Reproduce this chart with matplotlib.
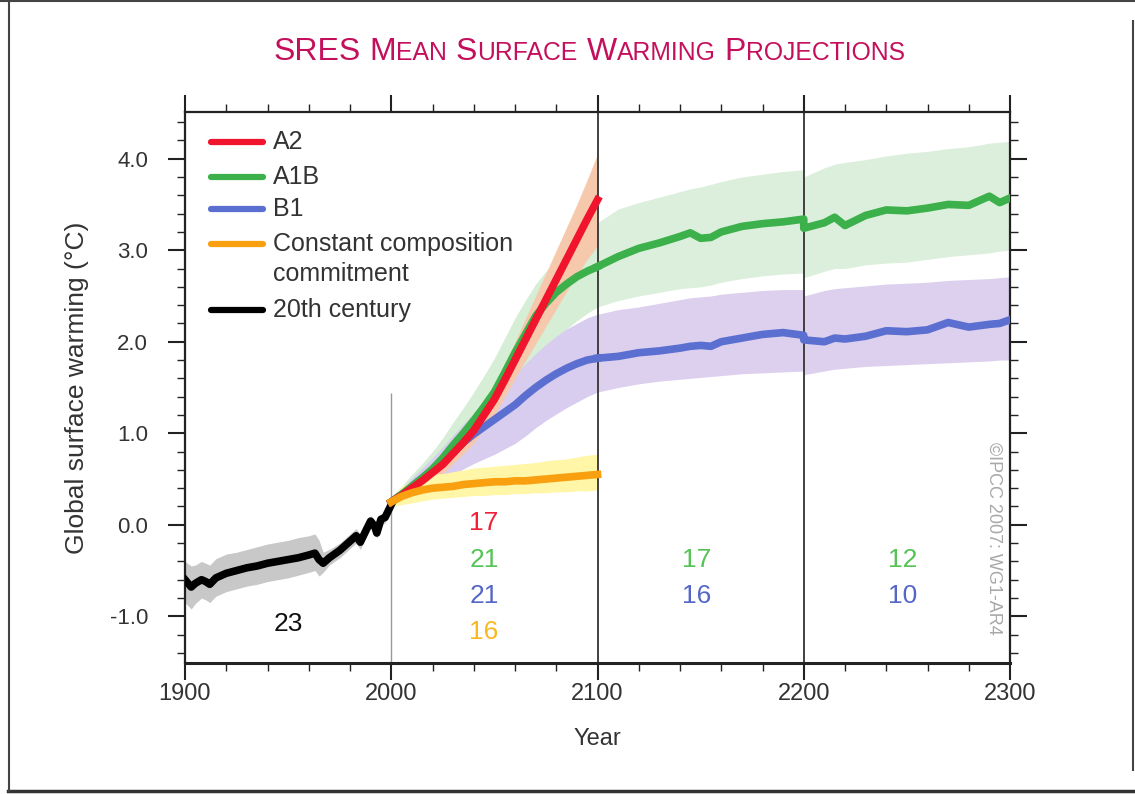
import matplotlib
matplotlib.use('Agg')
import matplotlib.pyplot as plt
from matplotlib.lines import Line2D
from matplotlib.ticker import MultipleLocator, FormatStrFormatter

plt.rcParams['font.family'] = ['Liberation Sans', 'DejaVu Sans']
plt.rcParams['axes.unicode_minus'] = False

# 20th century
hist_years = [1900, 1903, 1905, 1908, 1910, 1912, 1915, 1920, 1925, 1930, 1935, 1940, 1945, 1950, 1955, 1960,
              1963, 1965, 1967, 1970, 1975, 1980, 1983, 1985, 1988, 1990, 1992, 1993, 1995, 1997, 2000]
hist_mean = [-0.60, -0.68, -0.64, -0.60, -0.62, -0.65, -0.58, -0.53, -0.50, -0.47, -0.45, -0.42, -0.40, -0.38, -0.36, -0.33,
             -0.31, -0.38, -0.42, -0.36, -0.28, -0.18, -0.12, -0.19, -0.05, 0.04, -0.02, -0.09, 0.06, 0.08, 0.22]
hist_hi = [-0.40, -0.45, -0.44, -0.40, -0.42, -0.44, -0.37, -0.32, -0.30, -0.27, -0.24, -0.21, -0.19, -0.17, -0.14, -0.12,
           -0.10, -0.17, -0.30, -0.27, -0.20, -0.10, -0.04, -0.11, 0.02, 0.10, 0.04, -0.02, 0.12, 0.14, 0.27]
hist_lo = [-0.85, -0.92, -0.86, -0.80, -0.82, -0.85, -0.78, -0.73, -0.70, -0.67, -0.65, -0.62, -0.60, -0.58, -0.55, -0.52,
           -0.50, -0.56, -0.52, -0.44, -0.36, -0.26, -0.20, -0.27, -0.12, -0.03, -0.08, -0.15, 0.00, 0.02, 0.17]

# 21st century projections
proj_years = [2000, 2005, 2010, 2015, 2020, 2025, 2030, 2035, 2040, 2045, 2050,
              2055, 2060, 2065, 2070, 2075, 2080, 2085, 2090, 2095, 2100]
a2_mean = [0.25, 0.32, 0.40, 0.48, 0.57, 0.66, 0.78, 0.90, 1.03, 1.20, 1.37,
           1.58, 1.80, 2.02, 2.24, 2.46, 2.68, 2.90, 3.12, 3.34, 3.55]
a2_hi = [0.30, 0.38, 0.47, 0.56, 0.66, 0.76, 0.89, 1.02, 1.17, 1.34, 1.53,
         1.76, 2.00, 2.25, 2.50, 2.75, 3.00, 3.25, 3.50, 3.77, 4.05]
a2_lo = [0.20, 0.26, 0.33, 0.40, 0.48, 0.56, 0.67, 0.78, 0.89, 1.05, 1.20,
         1.40, 1.60, 1.79, 1.98, 2.17, 2.36, 2.55, 2.73, 2.90, 3.05]
a1b_mean = [0.25, 0.33, 0.42, 0.51, 0.61, 0.73, 0.87, 1.00, 1.14, 1.29, 1.45,
            1.66, 1.88, 2.08, 2.28, 2.42, 2.54, 2.63, 2.71, 2.77, 2.82]
a1b_hi = [0.30, 0.42, 0.55, 0.67, 0.80, 0.95, 1.12, 1.28, 1.45, 1.63, 1.82,
          2.04, 2.26, 2.45, 2.63, 2.77, 2.90, 3.01, 3.10, 3.18, 3.25]
a1b_lo = [0.20, 0.26, 0.32, 0.38, 0.45, 0.53, 0.63, 0.73, 0.84, 0.95, 1.07,
          1.26, 1.44, 1.62, 1.80, 1.93, 2.04, 2.14, 2.23, 2.31, 2.38]
b1_mean = [0.25, 0.33, 0.42, 0.51, 0.60, 0.70, 0.80, 0.90, 0.99, 1.07, 1.15,
           1.23, 1.31, 1.41, 1.50, 1.58, 1.65, 1.71, 1.76, 1.80, 1.82]
b1_hi = [0.30, 0.40, 0.51, 0.62, 0.73, 0.85, 0.98, 1.10, 1.22, 1.33, 1.44,
         1.54, 1.64, 1.76, 1.87, 1.97, 2.06, 2.14, 2.20, 2.26, 2.30]
b1_lo = [0.20, 0.25, 0.31, 0.37, 0.43, 0.49, 0.55, 0.61, 0.67, 0.72, 0.77,
         0.83, 0.89, 0.97, 1.06, 1.14, 1.21, 1.28, 1.34, 1.40, 1.45]
cc_mean = [0.25, 0.31, 0.35, 0.38, 0.40, 0.41, 0.42, 0.44, 0.45, 0.46, 0.47,
           0.47, 0.48, 0.48, 0.49, 0.50, 0.51, 0.52, 0.53, 0.54, 0.55]
cc_hi = [0.30, 0.42, 0.48, 0.52, 0.55, 0.56, 0.58, 0.60, 0.62, 0.63, 0.64,
         0.65, 0.66, 0.67, 0.68, 0.70, 0.71, 0.72, 0.74, 0.76, 0.77]
cc_lo = [0.20, 0.22, 0.24, 0.26, 0.28, 0.29, 0.30, 0.31, 0.32, 0.32, 0.33,
         0.33, 0.34, 0.34, 0.35, 0.35, 0.36, 0.36, 0.37, 0.37, 0.38]

# 2100-2300 extensions (2200 appears twice: model set changes there)
ext_years = [2100, 2110, 2120, 2130, 2140, 2145, 2150, 2155, 2160, 2170, 2180, 2190, 2200,
             2200, 2210, 2215, 2220, 2230, 2240, 2250, 2260, 2270, 2280, 2290, 2295, 2300]
a1b_ext_mean = [2.82, 2.93, 3.02, 3.08, 3.15, 3.19, 3.13, 3.14, 3.20, 3.26, 3.29, 3.31, 3.34,
                3.24, 3.30, 3.36, 3.27, 3.38, 3.44, 3.43, 3.46, 3.50, 3.49, 3.59, 3.52, 3.57]
a1b_ext_hi = [3.30, 3.45, 3.52, 3.58, 3.64, 3.67, 3.69, 3.72, 3.75, 3.80, 3.83, 3.86, 3.88,
              3.80, 3.90, 3.94, 3.96, 3.99, 4.03, 4.06, 4.08, 4.11, 4.13, 4.17, 4.18, 4.19]
a1b_ext_lo = [2.38, 2.45, 2.50, 2.54, 2.58, 2.59, 2.60, 2.62, 2.65, 2.69, 2.72, 2.74, 2.75,
              2.70, 2.77, 2.80, 2.80, 2.84, 2.86, 2.87, 2.90, 2.93, 2.95, 2.97, 2.99, 3.00]
b1_ext_mean = [1.82, 1.84, 1.88, 1.90, 1.93, 1.95, 1.96, 1.95, 2.00, 2.04, 2.08, 2.10, 2.07,
               2.02, 2.00, 2.04, 2.03, 2.06, 2.12, 2.11, 2.13, 2.21, 2.16, 2.19, 2.20, 2.24]
b1_ext_hi = [2.30, 2.35, 2.38, 2.42, 2.46, 2.48, 2.49, 2.50, 2.52, 2.54, 2.56, 2.57, 2.57,
             2.50, 2.56, 2.58, 2.59, 2.61, 2.63, 2.64, 2.65, 2.67, 2.68, 2.69, 2.70, 2.71]
b1_ext_lo = [1.45, 1.50, 1.54, 1.57, 1.59, 1.60, 1.61, 1.62, 1.63, 1.65, 1.66, 1.67, 1.68,
             1.64, 1.68, 1.70, 1.71, 1.73, 1.74, 1.75, 1.76, 1.77, 1.78, 1.79, 1.80, 1.80]

# number of models per period
count_labels = [
    (1950, -1.08, '23', '#111111'),
    (2045, 0.02, '17', '#f0203a'),
    (2045, -0.38, '21', '#55c455'),
    (2045, -0.78, '21', '#5566c8'),
    (2045, -1.17, '16', '#f8b820'),
    (2148, -0.38, '17', '#55c455'),
    (2148, -0.78, '16', '#5566c8'),
    (2248, -0.38, '12', '#55c455'),
    (2248, -0.78, '10', '#5566c8'),
]

legend_labels = ['A2', 'A1B', 'B1', 'Constant composition', '20th century']

RED = '#f0142d'
GREEN = '#3cb04a'
BLUE = '#5b6fd0'
ORANGE = '#f8a010'
legend_colors = [RED, GREEN, BLUE, ORANGE, 'black']

fig = plt.figure(figsize=(11.35, 7.94), dpi=100)
ax = fig.add_axes([185 / 1135, 1 - 663 / 794, 825 / 1135, 551 / 794])

# bands
ax.fill_between(proj_years, a1b_lo, a1b_hi, color='#d6edd6', lw=0, zorder=1)
ax.fill_between(ext_years, a1b_ext_lo, a1b_ext_hi, color='#dcefdc', lw=0, zorder=1)
ax.fill_between(proj_years, b1_lo, b1_hi, color='#d8cdee', lw=0, zorder=1.1)
ax.fill_between(ext_years, b1_ext_lo, b1_ext_hi, color='#dcd0ee', lw=0, zorder=1)
ax.fill_between(proj_years, a2_lo, a2_hi, color='#f6c8ac', lw=0, zorder=1.2)
ax.fill_between(proj_years, cc_lo, cc_hi, color='#fff6a8', lw=0, zorder=1.2)
ax.fill_between(hist_years, hist_lo, hist_hi, color='#c8c8c8', lw=0, zorder=1)

# period separators
ax.vlines(2000, -1.5, 1.44, color='#999999', lw=1.0, zorder=2)
ax.axvline(2100, color='#333333', lw=1.3, zorder=2)
ax.axvline(2200, color='#333333', lw=1.3, zorder=2)

lw = 5.5
ax.plot(hist_years, hist_mean, color='black', lw=lw, zorder=3, solid_joinstyle='round')
ax.plot(proj_years, b1_mean, color=BLUE, lw=lw, zorder=3)
ax.plot(ext_years, b1_ext_mean, color=BLUE, lw=lw, zorder=3)
ax.plot(proj_years, a1b_mean, color=GREEN, lw=lw, zorder=3.1)
ax.plot(ext_years, a1b_ext_mean, color=GREEN, lw=lw, zorder=3.1)
ax.plot(proj_years, a2_mean, color=RED, lw=lw, zorder=3.2)
ax.plot(proj_years, cc_mean, color=ORANGE, lw=lw, zorder=3.2)

for x, y, s, c in count_labels:
    ax.text(x, y, s, color=c, fontsize=19, ha='center', va='center', zorder=4)

ax.text(2292, -0.15, '\u00a9IPCC 2007: WG1-AR4', rotation=-90, ha='center', va='center',
        color='#a8a8a8', fontsize=13, zorder=4)

ax.set_xlim(1900, 2300)
ax.set_ylim(-1.51, 4.51)
ax.xaxis.set_major_locator(MultipleLocator(100))
ax.xaxis.set_minor_locator(MultipleLocator(20))
ax.yaxis.set_major_locator(MultipleLocator(1.0))
ax.yaxis.set_minor_locator(MultipleLocator(0.2))
ax.yaxis.set_major_formatter(FormatStrFormatter('%.1f'))
ax.tick_params(which='both', direction='out', top=True, right=True, color='#222222')
ax.tick_params(which='major', length=12.5, width=1.5)
ax.tick_params(which='minor', length=5.5, width=1.0)
ax.tick_params(axis='x', which='major', pad=2, labelsize=17, labelcolor='#333333')
ax.tick_params(axis='y', which='major', pad=14, labelsize=16, labelcolor='#333333')
for sp in ax.spines.values():
    sp.set_linewidth(1.6)
    sp.set_color('#222222')
ax.spines['bottom'].set_linewidth(2.2)

ax.set_xlabel('Year', fontsize=17, color='#333333')
ax.xaxis.set_label_coords(0.5, -0.118)
ax.set_ylabel('Global surface warming (\u00b0C)', fontsize=19, color='#333333')
ax.yaxis.set_label_coords(-0.116, 0.5)

# legend, drawn by hand so the two-line entry keeps its key on the first line
leg_rows = [0.9456, 0.882, 0.824, 0.760, 0.6407]
for lab, c, yy in zip(legend_labels, legend_colors, leg_rows):
    ax.plot([0.031, 0.094], [yy, yy], color=c, lw=4.5, solid_capstyle='round', transform=ax.transAxes,
            zorder=5)
    ax.text(0.107, yy, lab, fontsize=18, color='#333333', va='center', ha='left', transform=ax.transAxes,
            zorder=5)
ax.text(0.107, 0.706, 'commitment', fontsize=18, color='#333333', va='center', ha='left',
        transform=ax.transAxes, zorder=5)

# small-caps title
renderer = fig.canvas.get_renderer()
title_words = ['SRES', 'Mean', 'Surface', 'Warming', 'Projections']
big, small = 23, 17.8
pieces = []
for w in title_words:
    if w.isupper():
        pieces.append((w, big))
    else:
        pieces.append((w[0], big))
        pieces.append((w[1:].upper(), small))
    pieces.append((None, big))
pieces = pieces[:-1]
texts = []
total = 0
gap = 0.28 * big * 100 / 72
for s, size in pieces:
    if s is None:
        texts.append((None, gap))
        total += gap
        continue
    t = fig.text(0, 0, s, fontsize=size, color='#c4105c', ha='left', va='baseline')
    wpx = t.get_window_extent(renderer).width
    texts.append((t, wpx))
    total += wpx
xpix = 589 - total / 2
for t, wpx in texts:
    if t is not None:
        t.set_position((xpix / 1135, 1 - 60 / 794))
    xpix += wpx

# outer frame
fr = dict(transform=fig.transFigure, color='#444444', lw=1.5)
fig.add_artist(Line2D([0, 1], [0.9985, 0.9985], **fr))
fig.add_artist(Line2D([0.007, 1], [0.004, 0.004], lw=2.5, transform=fig.transFigure, color='#333333'))
fig.add_artist(Line2D([0.0075, 0.0075], [0.004, 0.9985], **fr))
fig.add_artist(Line2D([0.9982, 0.9982], [0.03, 0.973], **fr))

fig.savefig('out.png', dpi=100)
